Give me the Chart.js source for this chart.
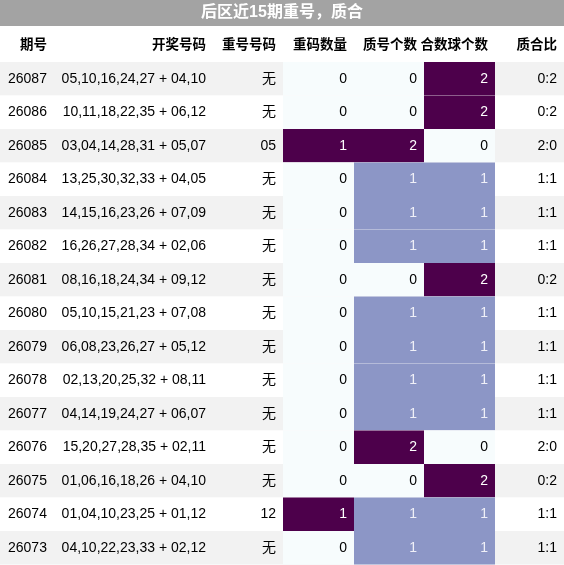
<!DOCTYPE html>
<html><head><meta charset="utf-8">
<script src="https://cdn.jsdelivr.net/npm/chart.js@4/dist/chart.umd.min.js"></script>
<style>html,body{margin:0;padding:0;background:#fff}#w{width:564px;height:565px}</style>
</head><body><div id="w"><canvas id="c"></canvas></div>
<script>
const title = "后区近15期重号，质合";
const headers = ["期号","开奖号码","重号号码","重码数量","质号个数","合数球个数","质合比"];
const issues = ["26087","26086","26085","26084","26083","26082","26081","26080","26079","26078","26077","26076","26075","26074","26073"];
const draws = ["05,10,16,24,27 + 04,10","10,11,18,22,35 + 06,12","03,04,14,28,31 + 05,07","13,25,30,32,33 + 04,05","14,15,16,23,26 + 07,09","16,26,27,28,34 + 02,06","08,16,18,24,34 + 09,12","05,10,15,21,23 + 07,08","06,08,23,26,27 + 05,12","02,13,20,25,32 + 08,11","04,14,19,24,27 + 06,07","15,20,27,28,35 + 02,11","01,06,16,18,26 + 04,10","01,04,10,23,25 + 01,12","04,10,22,23,33 + 02,12"];
const repeats = ["无","无","05","无","无","无","无","无","无","无","无","无","无","12","无"];
const repeatCount = [0,0,1,0,0,0,0,0,0,0,0,0,0,1,0];
const primeCount = [0,0,2,1,1,1,0,1,1,1,1,2,0,1,1];
const compositeCount = [2,2,0,1,1,1,2,1,1,1,1,0,2,1,1];
const ratios = ["0:2","0:2","2:0","1:1","1:1","1:1","0:2","1:1","1:1","1:1","1:1","2:0","0:2","1:1","1:1"];

const colEdges = [0,55,213,283,354,424,495,564];
const ROW_TOP = 62, ROW_H = 33.5;
const FONT = '"Liberation Sans","Noto Sans CJK SC",sans-serif';
function cellColor(v,max){ if(v===0) return '#f7fcfd'; if(v===max) return '#4d004b'; return '#8c96c6'; }

const tablePlugin = {
  id:'table',
  afterDraw(chart){
    const ctx = chart.ctx, xs = chart.scales.x, ys = chart.scales.y;
    const X = v=>xs.getPixelForValue(v), Y = v=>ys.getPixelForValue(v);
    ctx.save();
    ctx.fillStyle='#a3a3a3'; ctx.fillRect(X(0),Y(0),X(564)-X(0),Y(26)-Y(0));
    ctx.fillStyle='#fff'; ctx.font='bold 16px '+FONT; ctx.textAlign='center'; ctx.textBaseline='middle';
    ctx.fillText(title, X(282), Y(13));
    ctx.fillStyle='#000'; ctx.font='bold 13.5px '+FONT;
    headers.forEach((h,i)=>{
      if(i===0){ctx.textAlign='left'; ctx.fillText(h, X(20), Y(45));}
      else {ctx.textAlign='right'; ctx.fillText(h, X(colEdges[i+1]-7), Y(45));}
    });
    const maxes=[Math.max(...repeatCount),Math.max(...primeCount),Math.max(...compositeCount)];
    issues.forEach((iss,r)=>{
      const top=ROW_TOP+ROW_H*r, bot=top+ROW_H, mid=top+ROW_H/2;
      ctx.fillStyle = r%2===0 ? '#f2f2f2' : '#ffffff';
      ctx.fillRect(X(0),Y(top),X(564)-X(0),Y(bot)-Y(top));
      const nums=[repeatCount[r],primeCount[r],compositeCount[r]];
      nums.forEach((v,k)=>{
        ctx.fillStyle=cellColor(v,maxes[k]);
        ctx.fillRect(X(colEdges[k+3]),Y(top),X(colEdges[k+4])-X(colEdges[k+3]),Y(bot)-Y(top));
      });
      ctx.font='14px '+FONT; ctx.textBaseline='middle';
      ctx.fillStyle='#000'; ctx.textAlign='left';
      ctx.fillText(iss, X(8), Y(mid));
      ctx.textAlign='right';
      ctx.fillText(draws[r], X(colEdges[2]-7), Y(mid));
      ctx.fillText(repeats[r], X(colEdges[3]-7), Y(mid));
      nums.forEach((v,k)=>{
        ctx.fillStyle = v===0 ? '#000' : (v===maxes[k] ? '#fff' : '#f0f0f8');
        ctx.fillText(String(v), X(colEdges[k+4]-7), Y(mid));
      });
      ctx.fillStyle='#000';
      ctx.fillText(ratios[r], X(colEdges[7]-7), Y(mid));
    });
    ctx.restore();
  }
};

new Chart(document.getElementById('c'),{
  type:'scatter',
  data:{datasets:[{data:[]}]},
  options:{
    responsive:true, maintainAspectRatio:false, animation:false,
    layout:{padding:0},
    plugins:{legend:{display:false},tooltip:{enabled:false}},
    scales:{
      x:{type:'linear',min:0,max:564,display:false},
      y:{type:'linear',min:0,max:565,reverse:true,display:false}
    }
  },
  plugins:[tablePlugin]
});
</script></body></html>
